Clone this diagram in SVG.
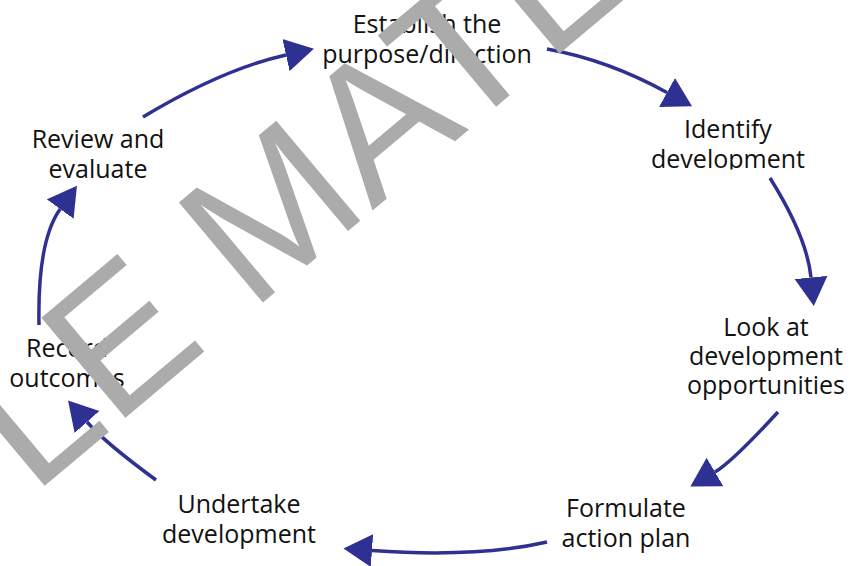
<svg xmlns="http://www.w3.org/2000/svg" width="854" height="566" viewBox="0 0 854 566">
<style>
.lbl{font-family:"Open Sans","Liberation Sans",sans-serif;font-size:25px;fill:#111;text-anchor:middle}
.con{fill:none;stroke:#2E3192;stroke-width:3.5;marker-end:url(#ah)}
.wm{font-family:"Liberation Sans",Arial,sans-serif;font-size:190px;fill:#ABABAB}
</style>
<defs>
<marker id="ah" markerUnits="userSpaceOnUse" markerWidth="30" markerHeight="34" viewBox="0 -17 30 34" refX="0" refY="0" orient="auto">
<path d="M0,-16.5 L28.6,0 L0,16.5 z" fill="#2E3192"/>
</marker>
<clipPath id="clipId"><rect x="600" y="100" width="254" height="69.5"/></clipPath>
</defs>
<rect width="854" height="566" fill="#fff"/>
<g id="connectors">
<path class="con" d="M143,117 Q223,69 286,55"/>
<path class="con" d="M547,49 Q608,60 667,92.5"/>
<path class="con" d="M770,178 Q807,237 811,277.5"/>
<path class="con" d="M778,412 Q732,462 715,472"/>
<path class="con" d="M547,542 Q477,558 372,550.5"/>
<path class="con" d="M156,480 Q106,443.5 87,422"/>
<path class="con" d="M39,325 Q37.3,240.7 60.2,209"/>
</g>
<g id="establish"><text class="lbl" x="427" y="32.5">Establish the</text><text class="lbl" x="427" y="63">purpose/direction</text></g>
<g id="identify" clip-path="url(#clipId)"><text class="lbl" x="728" y="138">Identify</text><text class="lbl" x="728" y="167.5">development</text></g>
<g id="lookat"><text class="lbl" x="766" y="336">Look at</text><text class="lbl" x="766" y="365">development</text><text class="lbl" x="766" y="394">opportunities</text></g>
<g id="formulate"><text class="lbl" x="626" y="517">Formulate</text><text class="lbl" x="626" y="546.5">action plan</text></g>
<g id="undertake"><text class="lbl" x="239" y="513">Undertake</text><text class="lbl" x="239" y="543">development</text></g>
<g id="record"><text class="lbl" x="67" y="357">Record</text><text class="lbl" x="67" y="387">outcomes</text></g>
<g id="review"><text class="lbl" x="98" y="148">Review and</text><text class="lbl" x="98" y="178">evaluate</text></g>
<g id="watermark"><text class="wm" transform="translate(43,487) rotate(-40)" x="-552" y="0">SAMPLE MATERIAL</text></g>
</svg>
